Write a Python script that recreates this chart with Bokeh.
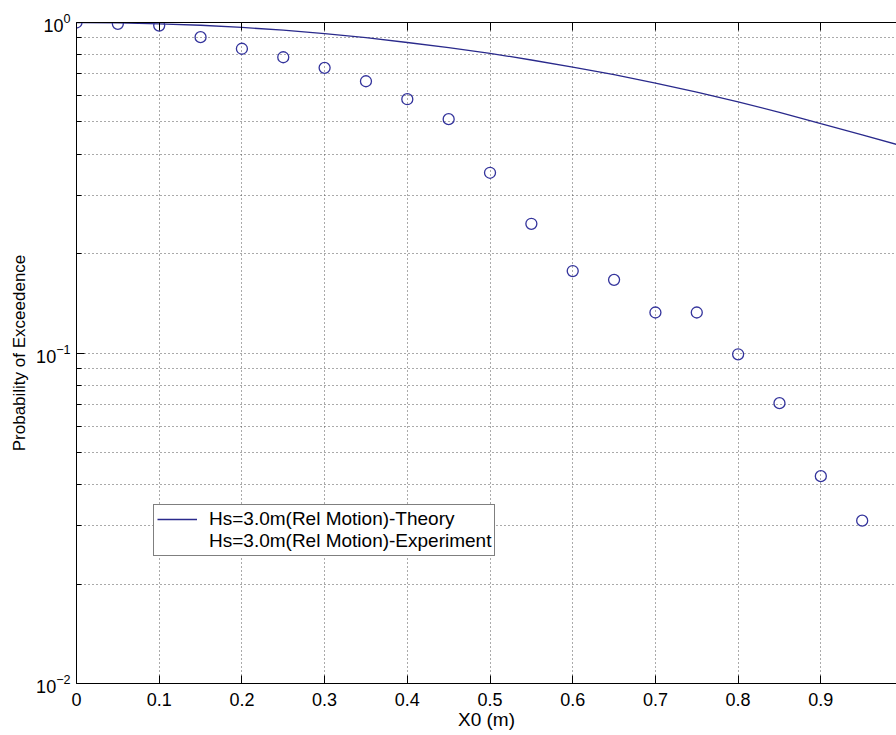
from bokeh.plotting import figure
from bokeh.models import (FixedTicker, LinearAxis, Range1d, Legend, LegendItem)
from bokeh.embed import file_html
from bokeh.resources import INLINE

# ---- data ----
exp_x = [0.0, 0.05, 0.1, 0.15, 0.2, 0.25, 0.3, 0.35, 0.4, 0.45,
         0.5, 0.55, 0.6, 0.65, 0.7, 0.75, 0.8, 0.85, 0.9, 0.95]
exp_p = [1.0, 0.991, 0.979, 0.903, 0.833, 0.785, 0.729, 0.664, 0.586, 0.510,
         0.351, 0.246, 0.177, 0.1665, 0.1326, 0.1326, 0.0991, 0.0705, 0.0424, 0.0311]

theory_x = [0.0, 0.05, 0.1, 0.15, 0.2, 0.25, 0.3, 0.35, 0.4, 0.45, 0.5,
            0.55, 0.6, 0.65, 0.7, 0.75, 0.8, 0.85, 0.9, 0.95, 1.0]
theory_p = [1.0, 0.998, 0.991, 0.981, 0.966, 0.948, 0.925, 0.900, 0.870, 0.840, 0.807,
            0.770, 0.733, 0.695, 0.656, 0.616, 0.575, 0.535, 0.494, 0.457, 0.422]

x_ticks = [0, 0.1, 0.2, 0.3, 0.4, 0.5, 0.6, 0.7, 0.8, 0.9, 1.0]
x_tick_labels = ["0", "0.1", "0.2", "0.3", "0.4", "0.5", "0.6", "0.7", "0.8", "0.9", "1"]
y_major = [0.01, 0.1, 1.0]
y_minor = [0.02, 0.03, 0.04, 0.05, 0.06, 0.07, 0.08, 0.09,
           0.2, 0.3, 0.4, 0.5, 0.6, 0.7, 0.8, 0.9]

labels = ["Hs=3.0m(Rel Motion)-Theory", "Hs=3.0m(Rel Motion)-Experiment"]
x_label = "X0 (m)"
y_label = "Probability of Exceedence"

FONT = "Liberation Sans"
LINE_COLOR = "#2a2a8c"
MARK_COLOR = "#34349c"
GRID_COLOR = "#555555"

p = figure(width=896, height=735, y_axis_type="log",
           x_range=Range1d(0, 0.9915), y_range=Range1d(0.01, 1.0),
           output_backend="svg", toolbar_location=None,
           min_border_left=76, min_border_right=0,
           min_border_top=22, min_border_bottom=52)
p.outline_line_color = None
p.background_fill_color = "white"
p.border_fill_color = "white"

r_line = p.line(theory_x, theory_p, line_color=LINE_COLOR, line_width=1.3)
r_pts = p.scatter(exp_x, exp_p, marker="circle", size=11, fill_color=None,
                  line_color=MARK_COLOR, line_width=1.3)
dummy = p.line([0.5], [0.5], line_alpha=0)

# x axis
xa = p.xaxis[0]
xa.ticker = FixedTicker(ticks=x_ticks)
xa.major_label_overrides = dict(zip(x_ticks, x_tick_labels))
xa.axis_label = x_label
for ax in (xa, p.yaxis[0]):
    ax.axis_line_color = "black"
    ax.axis_line_width = 1
    ax.major_tick_in = 8
    ax.major_tick_out = 0
    ax.major_tick_line_color = "black"
    ax.major_label_text_font = FONT
    ax.major_label_text_font_size = "18px"
    ax.major_label_text_color = "black"
    ax.axis_label_text_font = FONT
    ax.axis_label_text_font_size = "19px"
    ax.axis_label_text_font_style = "normal"
    ax.axis_label_text_color = "black"
xa.minor_tick_line_color = None
xa.major_label_standoff = 9
xa.axis_label_standoff = 0

ya = p.yaxis[0]
ya.ticker = FixedTicker(ticks=y_major, minor_ticks=y_minor)
ya.minor_tick_in = 5
ya.minor_tick_out = 0
ya.minor_tick_line_color = "black"
ya.axis_label = y_label
ya.axis_label_text_font_size = "17px"
ya.major_label_standoff = 6
ya.axis_label_standoff = 4

# top border with inward ticks
top = LinearAxis(ticker=FixedTicker(ticks=x_ticks),
                 major_label_overrides={t: "" for t in x_ticks},
                 major_label_text_font_size="1px", major_label_standoff=0,
                 major_tick_in=8, major_tick_out=0, minor_tick_line_color=None,
                 axis_line_color="black", major_tick_line_color="black")
p.add_layout(top, "above")

# grids
p.xgrid.grid_line_color = GRID_COLOR
p.xgrid.grid_line_dash = "1 3"
p.xgrid.grid_line_width = 1
p.ygrid.grid_line_color = GRID_COLOR
p.ygrid.grid_line_dash = "1 3"
p.ygrid.grid_line_width = 1
p.ygrid.minor_grid_line_color = GRID_COLOR
p.ygrid.minor_grid_line_dash = "1 3"
p.ygrid.minor_grid_line_width = 1

legend = Legend(items=[LegendItem(label=labels[0], renderers=[r_line]),
                       LegendItem(label=labels[1], renderers=[dummy])],
                location=(77, 127))
legend.label_text_font = FONT
legend.label_text_font_size = "19px"
legend.label_text_color = "black"
legend.label_height = 20
legend.glyph_height = 20
legend.glyph_width = 40
legend.label_standoff = 12
legend.padding = 3
legend.spacing = 0
legend.margin = 0
legend.border_line_color = "black"
legend.border_line_width = 1
legend.background_fill_color = "white"
legend.background_fill_alpha = 1.0
p.add_layout(legend, "center")

open("out.html", "w").write(file_html(p, INLINE))
